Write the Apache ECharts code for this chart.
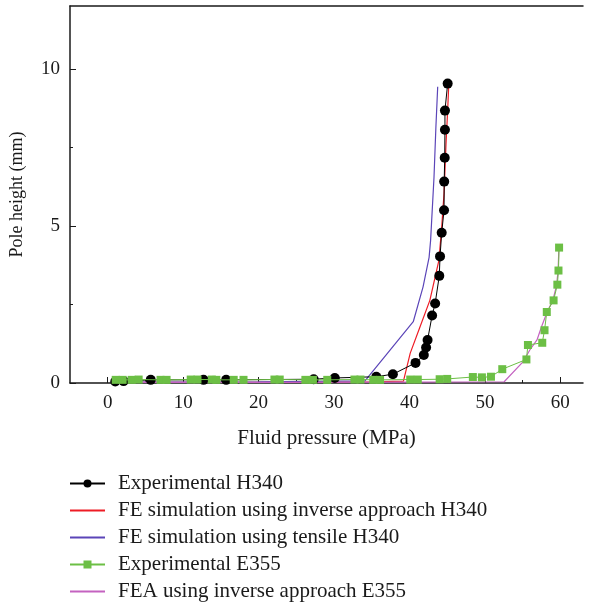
<!DOCTYPE html>
<html>
<head>
<meta charset="utf-8">
<script src="https://cdn.jsdelivr.net/npm/echarts@6/dist/echarts.min.js"></script>
<style>
  html, body { margin: 0; padding: 0; background: #fff; }
  #chart { width: 595px; height: 605px; }
</style>
</head>
<body>
<div id="chart"></div>
<script>
// series data: [fluid pressure (MPa), pole height (mm)]
var expH340 = [
    [1.0, 0.05], [2.1, 0.06], [5.7, 0.1], [12.7, 0.1], [15.7, 0.1], [27.3, 0.12],
    [30.1, 0.16], [35.6, 0.2], [37.8, 0.28], [40.8, 0.64], [41.9, 0.89], [42.2, 1.13],
    [42.4, 1.37], [43.0, 2.15], [43.4, 2.53], [43.95, 3.41], [44.05, 4.03], [44.27, 4.78],
    [44.58, 5.5], [44.6, 6.41], [44.67, 7.17], [44.7, 8.06], [44.7, 8.67], [45.06, 9.53]
];
var feInverseH340 = [
    [0.5, 0.02], [10, 0.02], [20, 0.02], [30, 0.03], [35, 0.04], [39.2, 0.06], [40.1, 0.95],
    [41.4, 1.79], [42.7, 2.63], [43.9, 3.9], [44.27, 4.96], [44.58, 6.03], [44.84, 7.6],
    [45.06, 8.67], [45.2, 9.46]
];
var feTensileH340 = [
    [0.5, 0.03], [20, 0.04], [34.1, 0.07], [40.5, 1.95], [41.8, 3.06], [42.6, 4.0],
    [42.8, 4.54], [43.25, 6.55], [43.5, 8.14], [43.74, 9.43]
];
var expE355 = [
    [1.06, 0.1], [1.98, 0.1], [3.17, 0.1], [4.1, 0.11], [7.0, 0.1], [7.8, 0.1], [11.0, 0.11],
    [11.9, 0.11], [13.8, 0.11], [14.4, 0.1], [16.7, 0.1], [18.0, 0.1], [22.1, 0.11], [22.8, 0.11],
    [26.2, 0.1], [27.2, 0.1], [29.1, 0.1], [32.7, 0.11], [33.5, 0.11], [35.2, 0.1], [36.1, 0.1],
    [40.1, 0.11], [41.1, 0.11], [44.0, 0.12], [45.0, 0.13], [48.4, 0.19], [49.6, 0.18],
    [50.8, 0.2], [52.3, 0.44], [55.5, 0.75], [55.7, 1.21], [57.6, 1.28], [57.9, 1.68],
    [58.2, 2.26], [59.1, 2.63], [59.6, 3.13], [59.75, 3.58], [59.83, 4.31]
];
var feaInverseE355 = [
    [0.5, 0.02], [20, 0.02], [40, 0.03], [52.55, 0.04], [55.07, 0.68], [55.95, 1.05],
    [56.9, 1.37], [57.5, 1.79], [58.25, 2.26], [59.0, 2.63], [59.5, 3.11], [59.7, 3.59],
    [59.8, 4.27]
];

var seriesNames = [
    'Experimental H340',
    'FE simulation using inverse approach H340',
    'FE simulation using tensile H340',
    'Experimental E355',
    'FEA using inverse approach E355'
];

// tick positions
var xMajorTicks = [0, 10, 20, 30, 40, 50, 60];
var xMinorTicks = [5, 15, 25, 35, 45, 55];
var yMajorTicks = [0, 5, 10];
var yMinorTicks = [2.5, 7.5];

var serif = '"Liberation Serif", "DejaVu Serif", serif';
var ink = '#1a1a1a';

var chart = echarts.init(document.getElementById('chart'));

// plain line legend entries hide the symbol
var legendData = seriesNames.map(function (name, i) {
    if (i === 0 || i === 3) return {name: name};
    return {name: name, itemStyle: {opacity: 0}};
});

var option = {
    animation: false,
    backgroundColor: '#fff',
    textStyle: {fontFamily: serif},
    grid: {left: 70, right: 12, top: 6, bottom: 222, outerBoundsMode: 'none', containLabel: false},
    legend: {
        orient: 'vertical',
        left: 69,
        top: 473,
        height: 200,
        padding: 0,
        itemWidth: 35,
        itemHeight: 10,
        itemGap: 6,
        data: legendData,
        textStyle: {fontFamily: serif, fontSize: 21, color: ink, lineHeight: 20, padding: [0, 0, 0, 8]}
    },
    xAxis: [{
        type: 'value',
        min: -5,
        max: 63,
        position: 'bottom',
        splitLine: {show: false},
        axisLine: {onZero: false, lineStyle: {color: ink, width: 1.5}},
        axisTick: {inside: true, length: 6, customValues: xMajorTicks, lineStyle: {color: ink}},
        axisLabel: {customValues: xMajorTicks, color: ink, fontSize: 19, fontFamily: serif, margin: 11},
        name: 'Fluid pressure (MPa)',
        nameLocation: 'middle',
        nameGap: 45,
        nameTextStyle: {color: ink, fontSize: 21, fontFamily: serif}
    }, {
        type: 'value',
        min: -5,
        max: 63,
        position: 'bottom',
        splitLine: {show: false},
        axisLine: {show: false, onZero: false},
        axisTick: {inside: true, length: 3, customValues: xMinorTicks, lineStyle: {color: ink}},
        axisLabel: {show: false}
    }, {
        type: 'value',
        min: -5,
        max: 63,
        position: 'top',
        splitLine: {show: false},
        axisLine: {onZero: false, lineStyle: {color: ink, width: 1.5}},
        axisTick: {show: false},
        axisLabel: {show: false}
    }],
    yAxis: [{
        type: 'value',
        min: 0,
        max: 12,
        position: 'left',
        splitLine: {show: false},
        axisLine: {show: true, onZero: false, lineStyle: {color: ink, width: 1.5}},
        axisTick: {show: true, inside: true, length: 6, customValues: yMajorTicks, lineStyle: {color: ink}},
        axisLabel: {customValues: yMajorTicks, color: ink, fontSize: 19, fontFamily: serif, margin: 10},
        name: 'Pole height (mm)',
        nameLocation: 'middle',
        nameGap: 44,
        nameTextStyle: {color: ink, fontSize: 18, fontFamily: serif}
    }, {
        type: 'value',
        min: 0,
        max: 12,
        position: 'left',
        splitLine: {show: false},
        axisLine: {show: false, onZero: false},
        axisTick: {show: true, inside: true, length: 3, customValues: yMinorTicks, lineStyle: {color: ink}},
        axisLabel: {show: false}
    }],
    series: [{
        name: seriesNames[1],
        type: 'line',
        data: feInverseH340,
        symbol: 'none',
        color: '#ee1c25',
        lineStyle: {width: 1.2},
        z: 2
    }, {
        name: seriesNames[2],
        type: 'line',
        data: feTensileH340,
        symbol: 'none',
        color: '#5b45b8',
        lineStyle: {width: 1.2},
        z: 2
    }, {
        name: seriesNames[4],
        type: 'line',
        data: feaInverseE355,
        symbol: 'none',
        color: '#c462c0',
        lineStyle: {width: 1.2},
        z: 2
    }, {
        name: seriesNames[0],
        type: 'line',
        data: expH340,
        symbol: 'circle',
        symbolSize: 10,
        color: '#000',
        lineStyle: {width: 1},
        z: 3
    }, {
        name: seriesNames[3],
        type: 'line',
        data: expE355,
        symbol: 'rect',
        symbolSize: 8,
        color: '#6cbf45',
        lineStyle: {width: 1},
        z: 4
    }]
};

chart.setOption(option);
</script>
</body>
</html>
